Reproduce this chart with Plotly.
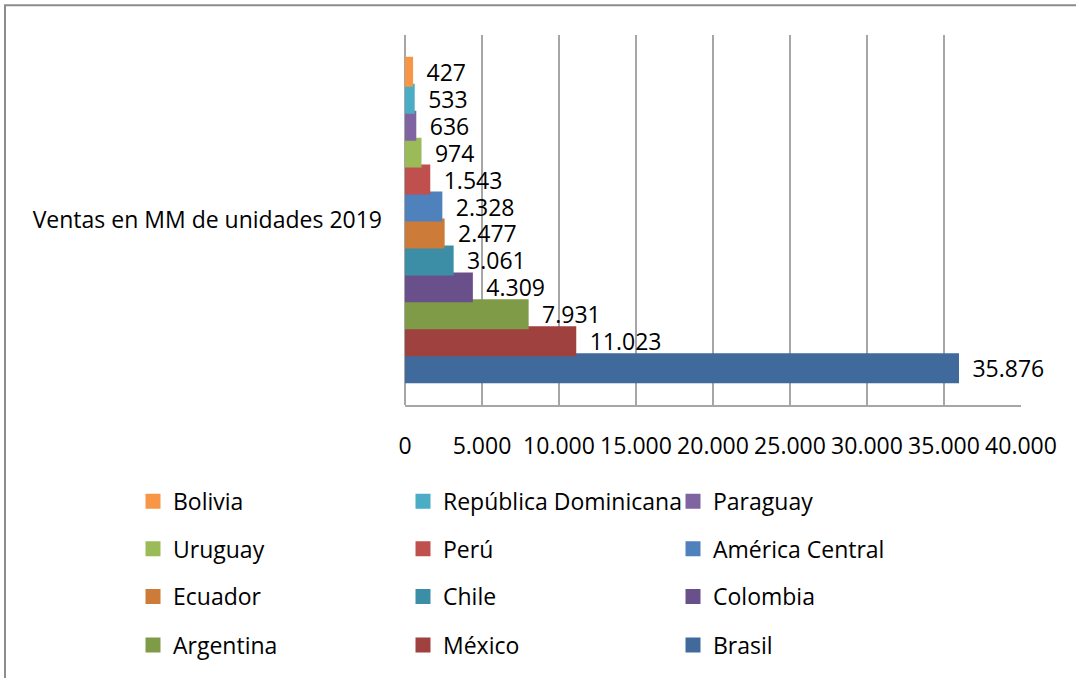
import plotly.graph_objects as go

# Sales by country (millions of units, 2019), in legend order
category = ["Ventas en MM de unidades 2019"]
countries = ["Bolivia", "República Dominicana", "Paraguay",
             "Uruguay", "Perú", "América Central",
             "Ecuador", "Chile", "Colombia",
             "Argentina", "México", "Brasil"]
sales = [427, 533, 636,
         974, 1543, 2328,
         2477, 3061, 4309,
         7931, 11023, 35876]
colors = ["#F79646", "#4BACC6", "#8064A2",
          "#9BBB59", "#C0504D", "#4F81BD",
          "#CC7B38", "#3C8DA6", "#69508A",
          "#7F9B47", "#9F413E", "#416A9C"]

x_ticks = list(range(0, 40001, 5000))

FONT = "Open Sans"
FS = 23
W, H = 1076, 678
ML, MR, MT, MB = 405, 55, 35, 270
PW, PH = W - ML - MR, H - MT - MB

fig = go.Figure()

# Bars drawn bottom-up (Brasil at the bottom), so add them in reverse order
n = len(countries)
for i in reversed(range(n)):
    row = i // 3
    fig.add_trace(go.Bar(
        y=category, x=[sales[i]], name=countries[i], orientation="h",
        marker=dict(color=colors[i], line=dict(width=3, color=colors[i])),
        text=[sales[i]], texttemplate="  %{x:,.0f}",
        textposition="outside", cliponaxis=False, constraintext="none",
        textfont=dict(family=FONT, size=FS, color="#000000"),
        legend="legend" if row == 0 else f"legend{row + 1}",
        hoverinfo="x+name",
    ))

def px_to_paper_x(px):
    return (px - ML) / PW

def px_to_paper_y(py):
    return (H - MB - py) / PH

# One legend per row so the rows keep the wide vertical spacing
legend_rows = [505, 553, 601, 650]
legends = {}
for r, yrow in enumerate(legend_rows):
    key = "legend" if r == 0 else f"legend{r + 1}"
    legends[key] = dict(
        orientation="h", traceorder="reversed",
        x=px_to_paper_x(133), xanchor="left",
        y=px_to_paper_y(yrow), yanchor="middle",
        entrywidth=225, entrywidthmode="pixels",
        font=dict(family=FONT, size=FS, color="#000000"),
        bgcolor="rgba(0,0,0,0)", itemclick=False, itemdoubleclick=False,
    )

fig.update_layout(
    width=W, height=H,
    margin=dict(l=ML, r=MR, t=MT, b=MB),
    paper_bgcolor="white", plot_bgcolor="white",
    barmode="group", bargap=0.126, bargroupgap=0,
    separators=",.",
    showlegend=True,
    font=dict(family=FONT, size=FS, color="#000000"),
    xaxis=dict(
        range=[0, 40000], tickvals=x_ticks,
        tickformat=",.0f",
        showgrid=True, gridcolor="#A6A6A6", gridwidth=2,
        zeroline=True, zerolinecolor="#A6A6A6", zerolinewidth=2,
        showline=True, linecolor="#A6A6A6", linewidth=2,
        ticks="", ticklabelstandoff=19,
        tickfont=dict(family=FONT, size=FS, color="#000000"),
        fixedrange=True,
    ),
    yaxis=dict(
        showgrid=False, zeroline=False, showline=False,
        ticks="", ticklabelstandoff=22,
        tickfont=dict(family=FONT, size=FS, color="#000000"),
        fixedrange=True,
    ),
    shapes=[dict(
        type="rect", xref="paper", yref="paper",
        x0=px_to_paper_x(5), x1=px_to_paper_x(W + 20),
        y0=px_to_paper_y(H + 20), y1=px_to_paper_y(5),
        line=dict(color="#8C8C8C", width=2), fillcolor="rgba(0,0,0,0)",
        layer="below",
    )],
    **legends,
)

fig.write_html("out.html")
